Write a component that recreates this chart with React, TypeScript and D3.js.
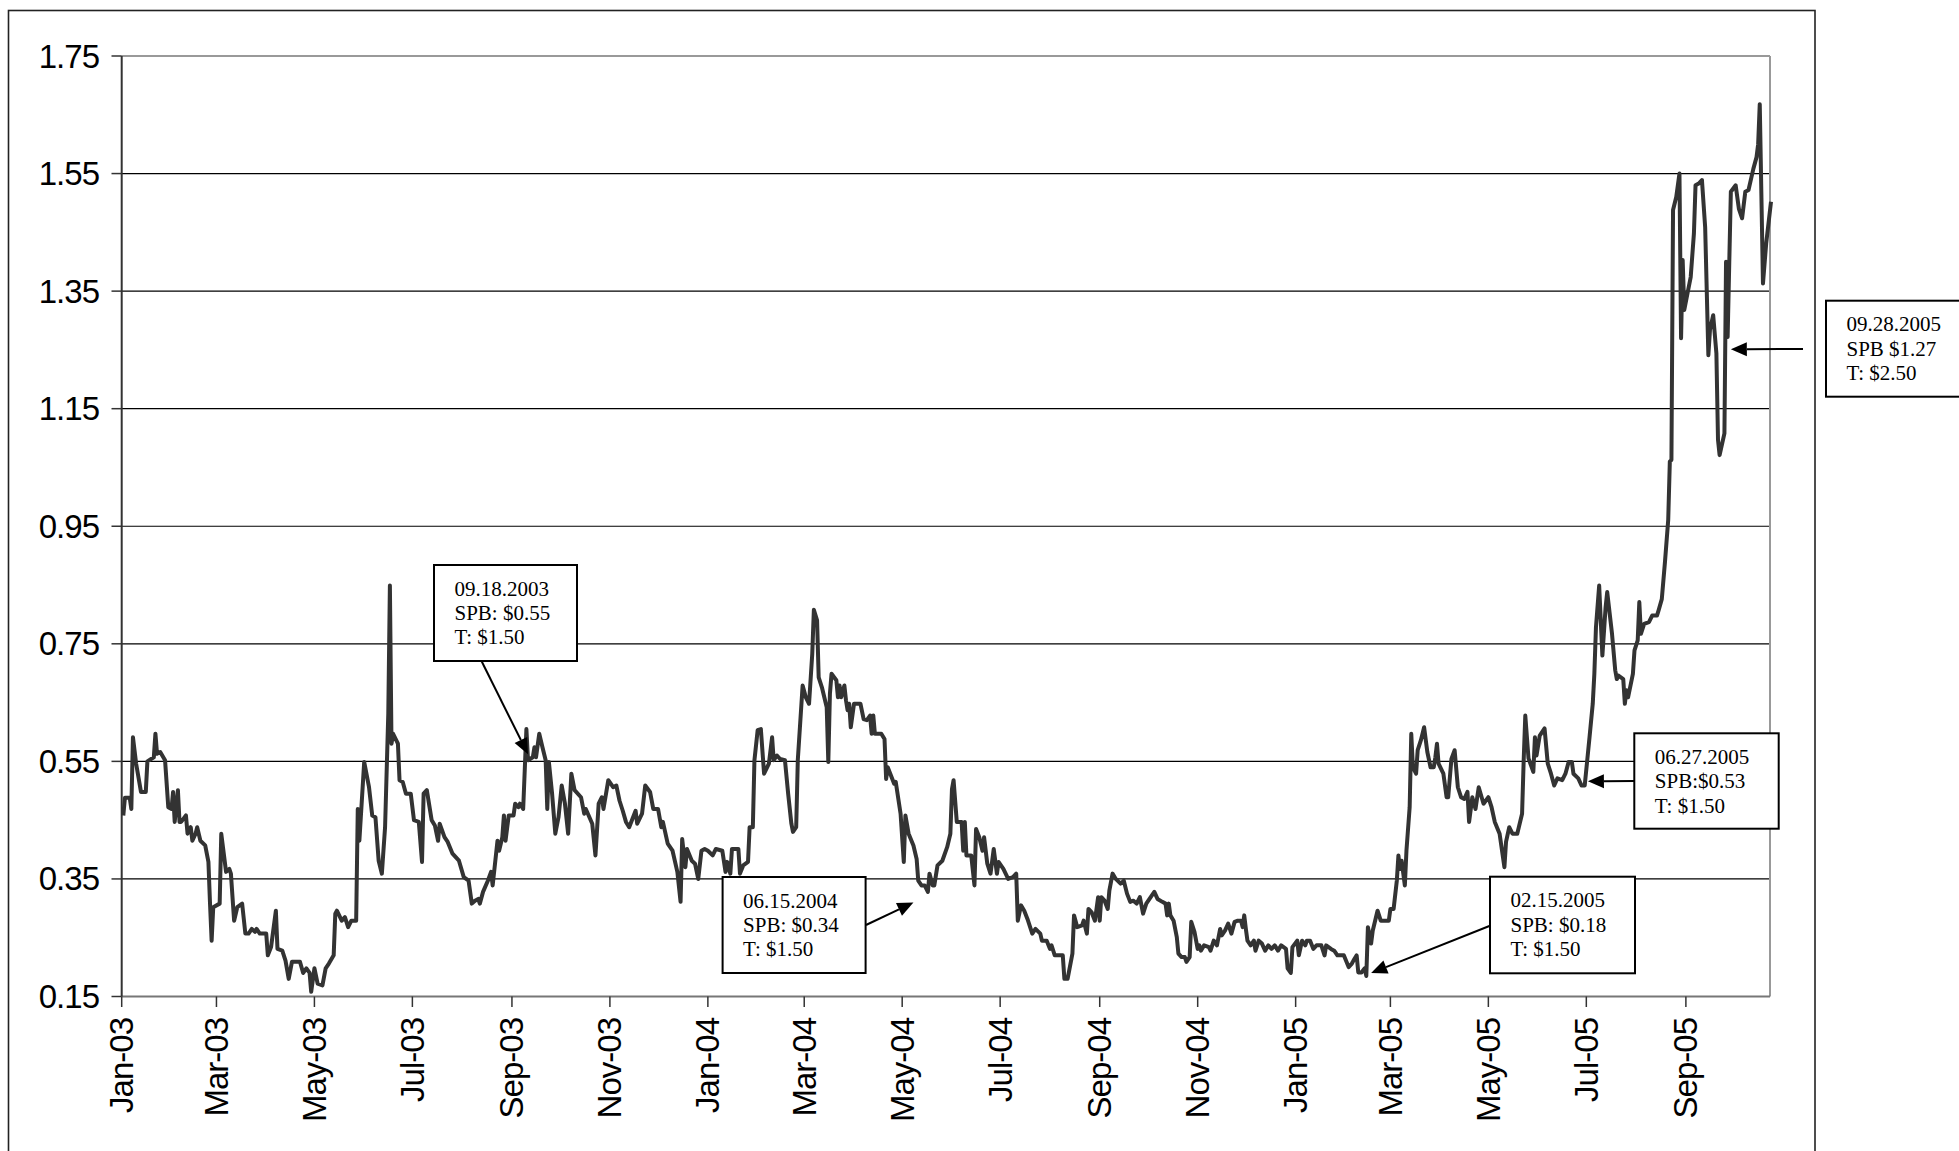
import React from "react";
import * as d3 from "d3";

// ---- Data ----
const spb2003: [string, number][] = [
  ["2003-01-02",0.458],["2003-01-03",0.488],["2003-01-06",0.488],["2003-01-07",0.469],["2003-01-08",0.591],
  ["2003-01-10",0.546],["2003-01-13",0.498],["2003-01-16",0.498],["2003-01-17",0.55],["2003-01-21",0.557],
  ["2003-01-22",0.597],["2003-01-23",0.563],["2003-01-25",0.566],["2003-01-28",0.552],["2003-01-30",0.472],
  ["2003-02-01",0.469],["2003-02-02",0.498],["2003-02-03",0.447],["2003-02-05",0.501],["2003-02-06",0.447],
  ["2003-02-07",0.447],["2003-02-10",0.458],["2003-02-11",0.427],["2003-02-13",0.438],["2003-02-14",0.415],
  ["2003-02-16",0.427],["2003-02-17",0.438],["2003-02-19",0.415],["2003-02-22",0.407],["2003-02-24",0.379],
  ["2003-02-25",0.308],["2003-02-26",0.245],["2003-02-27",0.302],["2003-03-03",0.308],["2003-03-04",0.427],
  ["2003-03-07",0.362],["2003-03-09",0.367],["2003-03-10",0.359],["2003-03-12",0.279],["2003-03-14",0.302],
  ["2003-03-17",0.308],["2003-03-19",0.257],["2003-03-21",0.257],["2003-03-23",0.265],["2003-03-25",0.26],
  ["2003-03-26",0.265],["2003-03-28",0.257],["2003-04-01",0.257],["2003-04-02",0.22],["2003-04-04",0.234],
  ["2003-04-07",0.296],["2003-04-08",0.231],["2003-04-11",0.228],["2003-04-13",0.211],["2003-04-15",0.18],
  ["2003-04-17",0.209],["2003-04-22",0.209],["2003-04-24",0.19],["2003-04-26",0.198],["2003-04-28",0.19],
  ["2003-04-29",0.158],["2003-05-01",0.198],["2003-05-03",0.172],["2003-05-06",0.169],["2003-05-08",0.198],
  ["2003-05-10",0.206],["2003-05-13",0.22],["2003-05-14",0.291],["2003-05-15",0.296],["2003-05-18",0.279],
  ["2003-05-20",0.285],["2003-05-22",0.268],["2003-05-24",0.279],["2003-05-27",0.279],["2003-05-28",0.469],
  ["2003-05-29",0.415],["2003-06-01",0.549],["2003-06-04",0.506],["2003-06-06",0.458],["2003-06-08",0.455],
  ["2003-06-10",0.381],["2003-06-12",0.359],["2003-06-14",0.438],["2003-06-16",0.631],["2003-06-17",0.849],
  ["2003-06-18",0.58],["2003-06-19",0.597],["2003-06-22",0.58],["2003-06-23",0.518],["2003-06-25",0.515],
  ["2003-06-27",0.495],["2003-06-30",0.495],["2003-07-02",0.45],["2003-07-05",0.447],["2003-07-07",0.379],
  ["2003-07-08",0.495],["2003-07-10",0.501],["2003-07-13",0.45],["2003-07-15",0.441],["2003-07-17",0.415],
  ["2003-07-18",0.444],["2003-07-21",0.421],["2003-07-23",0.413],["2003-07-26",0.393],["2003-07-30",0.381],
  ["2003-08-02",0.353],["2003-08-05",0.347],["2003-08-07",0.308],["2003-08-09",0.313],["2003-08-11",0.316],
  ["2003-08-12",0.308],["2003-08-14",0.328],["2003-08-17",0.347],["2003-08-19",0.362],["2003-08-20",0.339],
  ["2003-08-23",0.415],["2003-08-24",0.398],["2003-08-26",0.421],["2003-08-27",0.458],["2003-08-28",0.415],
  ["2003-08-30",0.458],["2003-09-02",0.458],["2003-09-03",0.478],["2003-09-05",0.472],["2003-09-06",0.478],
  ["2003-09-08",0.469],["2003-09-10",0.605],["2003-09-11",0.552],["2003-09-14",0.557],["2003-09-15",0.574],
  ["2003-09-16",0.557],["2003-09-18",0.597],["2003-09-20",0.574],["2003-09-22",0.552],["2003-09-23",0.469],
  ["2003-09-24",0.549],["2003-09-26",0.495],["2003-09-28",0.427],["2003-09-30",0.455],["2003-10-02",0.509],
  ["2003-10-04",0.478],["2003-10-06",0.427],["2003-10-08",0.529],["2003-10-10",0.501],["2003-10-14",0.489],
  ["2003-10-16",0.461],["2003-10-17",0.469],["2003-10-21",0.444],["2003-10-23",0.39],["2003-10-25",0.478],
  ["2003-10-27",0.489],["2003-10-28",0.469],["2003-10-31",0.518],["2003-11-03",0.506],["2003-11-05",0.509],
  ["2003-11-07",0.483],["2003-11-09",0.466],["2003-11-11",0.447],["2003-11-13",0.438],["2003-11-15",0.452],
  ["2003-11-17",0.466],["2003-11-18",0.444],["2003-11-21",0.461],["2003-11-23",0.509],["2003-11-26",0.498],
  ["2003-11-28",0.469],["2003-12-01",0.469],["2003-12-03",0.438],["2003-12-04",0.447],["2003-12-07",0.41],
  ["2003-12-10",0.398],["2003-12-13",0.362],["2003-12-15",0.311],["2003-12-16",0.418],["2003-12-18",0.37],
  ["2003-12-19",0.401],["2003-12-22",0.381],["2003-12-24",0.376],["2003-12-26",0.35],["2003-12-28",0.398],
  ["2003-12-30",0.401],
];

const spb2004: [string, number][] = [
  ["2004-01-01",0.398],["2004-01-04",0.39],["2004-01-06",0.401],["2004-01-10",0.398],["2004-01-12",0.362],
  ["2004-01-13",0.379],["2004-01-15",0.359],["2004-01-16",0.401],["2004-01-20",0.401],["2004-01-21",0.359],
  ["2004-01-23",0.373],["2004-01-26",0.379],["2004-01-27",0.438],["2004-01-29",0.438],["2004-01-30",0.552],
  ["2004-02-01",0.603],["2004-02-03",0.605],["2004-02-05",0.529],["2004-02-08",0.546],["2004-02-10",0.591],
  ["2004-02-11",0.552],["2004-02-13",0.56],["2004-02-15",0.554],["2004-02-18",0.552],["2004-02-20",0.495],
  ["2004-02-22",0.444],["2004-02-23",0.43],["2004-02-25",0.438],["2004-02-26",0.552],["2004-02-29",0.679],
  ["2004-03-02",0.659],["2004-03-04",0.648],["2004-03-06",0.733],["2004-03-07",0.808],["2004-03-09",0.79],
  ["2004-03-10",0.693],["2004-03-12",0.676],["2004-03-15",0.642],["2004-03-16",0.549],["2004-03-17",0.665],
  ["2004-03-18",0.699],["2004-03-21",0.688],["2004-03-22",0.659],["2004-03-23",0.679],["2004-03-24",0.659],
  ["2004-03-26",0.679],["2004-03-27",0.654],["2004-03-28",0.637],["2004-03-29",0.648],["2004-03-30",0.608],
  ["2004-04-01",0.648],["2004-04-05",0.648],["2004-04-07",0.622],["2004-04-09",0.62],["2004-04-11",0.628],
  ["2004-04-12",0.597],["2004-04-13",0.628],["2004-04-14",0.597],["2004-04-18",0.597],["2004-04-20",0.588],
  ["2004-04-21",0.52],["2004-04-22",0.54],["2004-04-24",0.526],["2004-04-26",0.512],["2004-04-27",0.515],
  ["2004-04-30",0.461],["2004-05-02",0.379],["2004-05-03",0.458],["2004-05-05",0.427],["2004-05-08",0.407],
  ["2004-05-10",0.384],["2004-05-11",0.347],["2004-05-13",0.339],["2004-05-15",0.339],["2004-05-17",0.328],
  ["2004-05-18",0.359],["2004-05-20",0.339],["2004-05-21",0.339],["2004-05-23",0.373],["2004-05-26",0.381],
  ["2004-05-29",0.404],["2004-05-31",0.427],["2004-06-01",0.503],["2004-06-02",0.518],["2004-06-04",0.447],
  ["2004-06-07",0.447],["2004-06-08",0.398],["2004-06-09",0.447],["2004-06-10",0.39],["2004-06-13",0.39],
  ["2004-06-15",0.339],["2004-06-16",0.435],["2004-06-18",0.421],["2004-06-20",0.398],["2004-06-21",0.421],
  ["2004-06-23",0.376],["2004-06-25",0.359],["2004-06-27",0.401],["2004-06-29",0.359],["2004-06-30",0.379],
  ["2004-07-03",0.367],["2004-07-06",0.35],["2004-07-09",0.353],["2004-07-11",0.359],["2004-07-12",0.279],
  ["2004-07-14",0.305],["2004-07-16",0.296],["2004-07-18",0.282],["2004-07-21",0.257],["2004-07-23",0.265],
  ["2004-07-26",0.257],["2004-07-27",0.245],["2004-07-30",0.245],["2004-08-01",0.231],["2004-08-02",0.237],
  ["2004-08-04",0.22],["2004-08-09",0.22],["2004-08-10",0.18],["2004-08-12",0.18],["2004-08-15",0.223],
  ["2004-08-16",0.288],["2004-08-18",0.268],["2004-08-21",0.271],["2004-08-22",0.279],["2004-08-24",0.257],
  ["2004-08-25",0.299],["2004-08-27",0.293],["2004-08-29",0.279],["2004-08-31",0.319],["2004-09-01",0.279],
  ["2004-09-02",0.319],["2004-09-04",0.313],["2004-09-06",0.299],["2004-09-07",0.33],["2004-09-09",0.359],
  ["2004-09-11",0.35],["2004-09-14",0.342],["2004-09-16",0.347],["2004-09-18",0.325],["2004-09-20",0.311],
  ["2004-09-22",0.313],["2004-09-24",0.308],["2004-09-26",0.319],["2004-09-28",0.291],["2004-09-30",0.308],
  ["2004-10-02",0.316],["2004-10-05",0.328],["2004-10-07",0.316],["2004-10-10",0.311],["2004-10-12",0.308],
  ["2004-10-13",0.288],["2004-10-14",0.308],["2004-10-15",0.288],["2004-10-17",0.279],["2004-10-19",0.251],
  ["2004-10-20",0.223],["2004-10-22",0.217],["2004-10-24",0.217],["2004-10-25",0.209],["2004-10-27",0.217],
  ["2004-10-28",0.277],["2004-10-30",0.26],["2004-11-01",0.231],["2004-11-02",0.237],["2004-11-03",0.228],
  ["2004-11-05",0.237],["2004-11-08",0.234],["2004-11-09",0.228],["2004-11-11",0.245],["2004-11-13",0.237],
  ["2004-11-15",0.265],["2004-11-16",0.254],["2004-11-18",0.262],["2004-11-20",0.274],["2004-11-22",0.257],
  ["2004-11-24",0.277],["2004-11-26",0.279],["2004-11-28",0.279],["2004-11-29",0.268],["2004-11-30",0.288],
  ["2004-12-01",0.265],["2004-12-02",0.245],["2004-12-04",0.237],["2004-12-06",0.245],["2004-12-07",0.228],
  ["2004-12-09",0.245],["2004-12-11",0.24],["2004-12-13",0.228],["2004-12-15",0.237],["2004-12-17",0.231],
  ["2004-12-19",0.237],["2004-12-21",0.228],["2004-12-23",0.237],["2004-12-26",0.231],["2004-12-27",0.198],
  ["2004-12-29",0.19],["2004-12-30",0.234],
];

const spb2005: [string, number][] = [
  ["2005-01-02",0.245],["2005-01-03",0.22],["2005-01-05",0.245],["2005-01-07",0.237],["2005-01-08",0.245],
  ["2005-01-10",0.245],["2005-01-12",0.231],["2005-01-14",0.237],["2005-01-17",0.237],["2005-01-19",0.22],
  ["2005-01-20",0.237],["2005-01-23",0.231],["2005-01-25",0.228],["2005-01-27",0.22],["2005-01-31",0.22],
  ["2005-02-03",0.2],["2005-02-05",0.206],["2005-02-06",0.211],["2005-02-08",0.22],["2005-02-09",0.191],
  ["2005-02-11",0.191],["2005-02-13",0.198],["2005-02-14",0.185],["2005-02-15",0.268],["2005-02-17",0.24],
  ["2005-02-18",0.262],["2005-02-21",0.296],["2005-02-23",0.279],["2005-02-28",0.279],["2005-03-01",0.299],
  ["2005-03-03",0.299],["2005-03-05",0.347],["2005-03-06",0.39],["2005-03-07",0.367],["2005-03-08",0.381],
  ["2005-03-10",0.339],["2005-03-11",0.398],["2005-03-13",0.472],["2005-03-14",0.597],["2005-03-15",0.54],
  ["2005-03-17",0.529],["2005-03-18",0.569],["2005-03-20",0.586],["2005-03-22",0.608],["2005-03-24",0.566],
  ["2005-03-26",0.54],["2005-03-28",0.54],["2005-03-29",0.557],["2005-03-30",0.58],["2005-03-31",0.546],
  ["2005-04-03",0.529],["2005-04-05",0.489],["2005-04-06",0.489],["2005-04-08",0.554],["2005-04-10",0.569],
  ["2005-04-12",0.506],["2005-04-14",0.489],["2005-04-16",0.486],["2005-04-18",0.498],["2005-04-19",0.447],
  ["2005-04-21",0.489],["2005-04-23",0.469],["2005-04-25",0.506],["2005-04-28",0.478],["2005-05-01",0.489],
  ["2005-05-03",0.472],["2005-05-05",0.447],["2005-05-08",0.427],["2005-05-11",0.37],["2005-05-12",0.413],
  ["2005-05-14",0.438],["2005-05-16",0.427],["2005-05-19",0.427],["2005-05-22",0.461],["2005-05-23",0.552],
  ["2005-05-24",0.628],["2005-05-26",0.555],["2005-05-28",0.54],["2005-05-29",0.532],["2005-05-30",0.591],
  ["2005-05-31",0.56],["2005-06-02",0.594],["2005-06-05",0.606],["2005-06-07",0.546],["2005-06-09",0.529],
  ["2005-06-11",0.509],["2005-06-13",0.521],["2005-06-16",0.518],["2005-06-18",0.529],["2005-06-20",0.549],
  ["2005-06-22",0.549],["2005-06-23",0.529],["2005-06-26",0.521],["2005-06-28",0.509],["2005-06-30",0.509],
  ["2005-07-03",0.591],["2005-07-05",0.648],["2005-07-06",0.699],["2005-07-07",0.778],["2005-07-09",0.849],
  ["2005-07-11",0.73],["2005-07-13",0.812],["2005-07-14",0.838],["2005-07-17",0.767],["2005-07-19",0.705],
  ["2005-07-20",0.69],["2005-07-21",0.696],["2005-07-24",0.69],["2005-07-25",0.648],["2005-07-26",0.671],
  ["2005-07-27",0.659],["2005-07-30",0.699],["2005-07-31",0.739],["2005-08-02",0.756],["2005-08-03",0.821],
  ["2005-08-04",0.767],["2005-08-06",0.784],["2005-08-09",0.787],["2005-08-11",0.798],["2005-08-14",0.798],
  ["2005-08-15",0.807],["2005-08-17",0.826],["2005-08-19",0.89],["2005-08-21",0.961],["2005-08-22",1.06],
  ["2005-08-23",1.063],["2005-08-24",1.488],["2005-08-26",1.51],["2005-08-28",1.55],["2005-08-29",1.27],
  ["2005-08-30",1.403],["2005-08-31",1.318],["2005-09-02",1.346],["2005-09-04",1.374],["2005-09-06",1.448],
  ["2005-09-07",1.53],["2005-09-09",1.533],["2005-09-11",1.539],["2005-09-13",1.459],["2005-09-15",1.241],
  ["2005-09-16",1.284],["2005-09-18",1.309],["2005-09-20",1.244],["2005-09-21",1.097],["2005-09-22",1.071],
  ["2005-09-25",1.108],["2005-09-26",1.4],["2005-09-27",1.272],["2005-09-28",1.397],["2005-09-29",1.519],
  ["2005-10-02",1.53],["2005-10-04",1.49],["2005-10-06",1.474],["2005-10-08",1.519],["2005-10-10",1.522],
  ["2005-10-13",1.558],["2005-10-15",1.578],["2005-10-16",1.6],["2005-10-17",1.668],["2005-10-19",1.363],
  ["2005-10-21",1.431],["2005-10-24",1.502],
];

const xDomain: [string, string] = ["2003-01-01", "2005-10-24"];
const yTicks = [0.15, 0.35, 0.55, 0.75, 0.95, 1.15, 1.35, 1.55, 1.75];

// annotation texts and the point each arrow points at
const noteTexts: string[][] = [
  ["09.18.2003", "SPB: $0.55", "T: $1.50"],
  ["06.15.2004", "SPB: $0.34", "T: $1.50"],
  ["06.27.2005", "SPB:$0.53", "T: $1.50"],
  ["02.15.2005", "SPB: $0.18", "T: $1.50"],
  ["09.28.2005", "SPB $1.27", "T: $2.50"],
];
const noteTargets: [string, number][] = [
  ["2003-09-11", 0.562],
  ["2004-05-08", 0.31],
  ["2005-07-02", 0.516],
  ["2005-02-17", 0.19],
  ["2005-09-29", 1.251],
];

// ---- Layout ----
const W = 1959;
const H = 1151;
const PL = 121.7, PR = 1771, PT = 56, PB = 996.5;
// boxes: x, y, w, h ; arrow tail point
const noteBoxes = [
  { box: [434, 565, 143, 96], tail: [481.5, 661] },
  { box: [722.6, 877, 143, 96], tail: [866, 925] },
  { box: [1634.3, 733.3, 144.4, 95.4], tail: [1634.3, 781] },
  { box: [1490, 876.7, 145, 96.6], tail: [1490, 925.7] },
  { box: [1826, 300.7, 160, 96], tail: [1803, 349] },
];

export default function App() {
  const parse = d3.timeParse("%Y-%m-%d");
  const data = [...spb2003, ...spb2004, ...spb2005].map(([d, v]) => ({ date: parse(d) as Date, v }));
  const x = d3.scaleTime().domain([parse(xDomain[0]) as Date, parse(xDomain[1]) as Date]).range([PL, PR]);
  const y = d3.scaleLinear().domain([0.15, 1.75]).range([PB, PT]);
  const line = d3.line<{ date: Date; v: number }>().x((d) => x(d.date)).y((d) => y(d.v));
  const xTicks = d3.timeMonth.every(2)!.range(parse(xDomain[0]) as Date, parse(xDomain[1]) as Date);
  const fmtX = d3.timeFormat("%b-%y");
  const fmtY = d3.format(".2f");
  const sans = "'Liberation Sans', Arial, sans-serif";
  const serif = "'Liberation Serif', 'Times New Roman', serif";

  return (
    <svg width={W} height={H} style={{ position: "absolute", left: 0, top: 0, background: "#fff" }}>
      <rect x={0} y={0} width={W} height={H} fill="#fff" />
      {/* outer frame */}
      <rect x={8.5} y={10.5} width={1806.5} height={1200} fill="none" stroke="#222" strokeWidth={1.6} />

      {/* gridlines */}
      {yTicks.slice(1, -1).map((t) => (
        <line key={t} x1={PL} x2={1770} y1={y(t)} y2={y(t)} stroke="#000" strokeWidth={1.2} />
      ))}
      {/* plot area border (top, right) */}
      <line x1={PL} x2={1770} y1={y(1.75)} y2={y(1.75)} stroke="#999" strokeWidth={2} />
      <line x1={1770} x2={1770} y1={PT} y2={PB} stroke="#999" strokeWidth={2} />

      {/* axes */}
      <line x1={PL} x2={1770} y1={PB} y2={PB} stroke="#777" strokeWidth={2} />
      <line x1={PL} x2={PL} y1={PT} y2={PB} stroke="#333" strokeWidth={2} />

      {yTicks.map((t) => (
        <g key={"y" + t}>
          <line x1={111.5} x2={PL} y1={y(t)} y2={y(t)} stroke="#333" strokeWidth={1.5} />
          <text x={99} y={y(t) + 11.5} textAnchor="end" fontFamily={sans} fontSize={33} letterSpacing={-1} fill="#000">
            {fmtY(t)}
          </text>
        </g>
      ))}

      {xTicks.map((t) => (
        <g key={"x" + t.getTime()}>
          <line x1={x(t)} x2={x(t)} y1={PB} y2={1007} stroke="#333" strokeWidth={1.5} />
          <text
            transform={`translate(${x(t) + 11.5},1018) rotate(-90)`}
            textAnchor="end"
            fontFamily={sans}
            fontSize={33}
            letterSpacing={-1}
            fill="#000"
          >
            {fmtX(t)}
          </text>
        </g>
      ))}

      {/* series */}
      <path d={line(data) || ""} fill="none" stroke="#333" strokeWidth={4} strokeLinejoin="round" />

      {/* annotations */}
      {noteTexts.map((lines, i) => {
        const [bx, by, bw, bh] = noteBoxes[i].box;
        const [tx0, ty0] = noteBoxes[i].tail;
        const tip = noteTargets[i];
        const px = x(parse(tip[0]) as Date);
        const py = y(tip[1]);
        const dx = px - tx0, dy = py - ty0;
        const len = Math.hypot(dx, dy);
        const ux = dx / len, uy = dy / len;
        const hl = 16, hw = 7;
        const bxp = px - ux * hl, byp = py - uy * hl;
        const head = `${px},${py} ${bxp - uy * hw},${byp + ux * hw} ${bxp + uy * hw},${byp - ux * hw}`;
        return (
          <g key={"n" + i}>
            <line x1={tx0} y1={ty0} x2={bxp} y2={byp} stroke="#000" strokeWidth={2} />
            <polygon points={head} fill="#000" />
            <rect x={bx} y={by} width={bw} height={bh} fill="#fff" stroke="#000" strokeWidth={2} />
            {lines.map((s, j) => (
              <text key={j} x={bx + 20.5} y={by + 30.5 + j * 24.4} fontFamily={serif} fontSize={21} fill="#000">
                {s}
              </text>
            ))}
          </g>
        );
      })}
    </svg>
  );
}
